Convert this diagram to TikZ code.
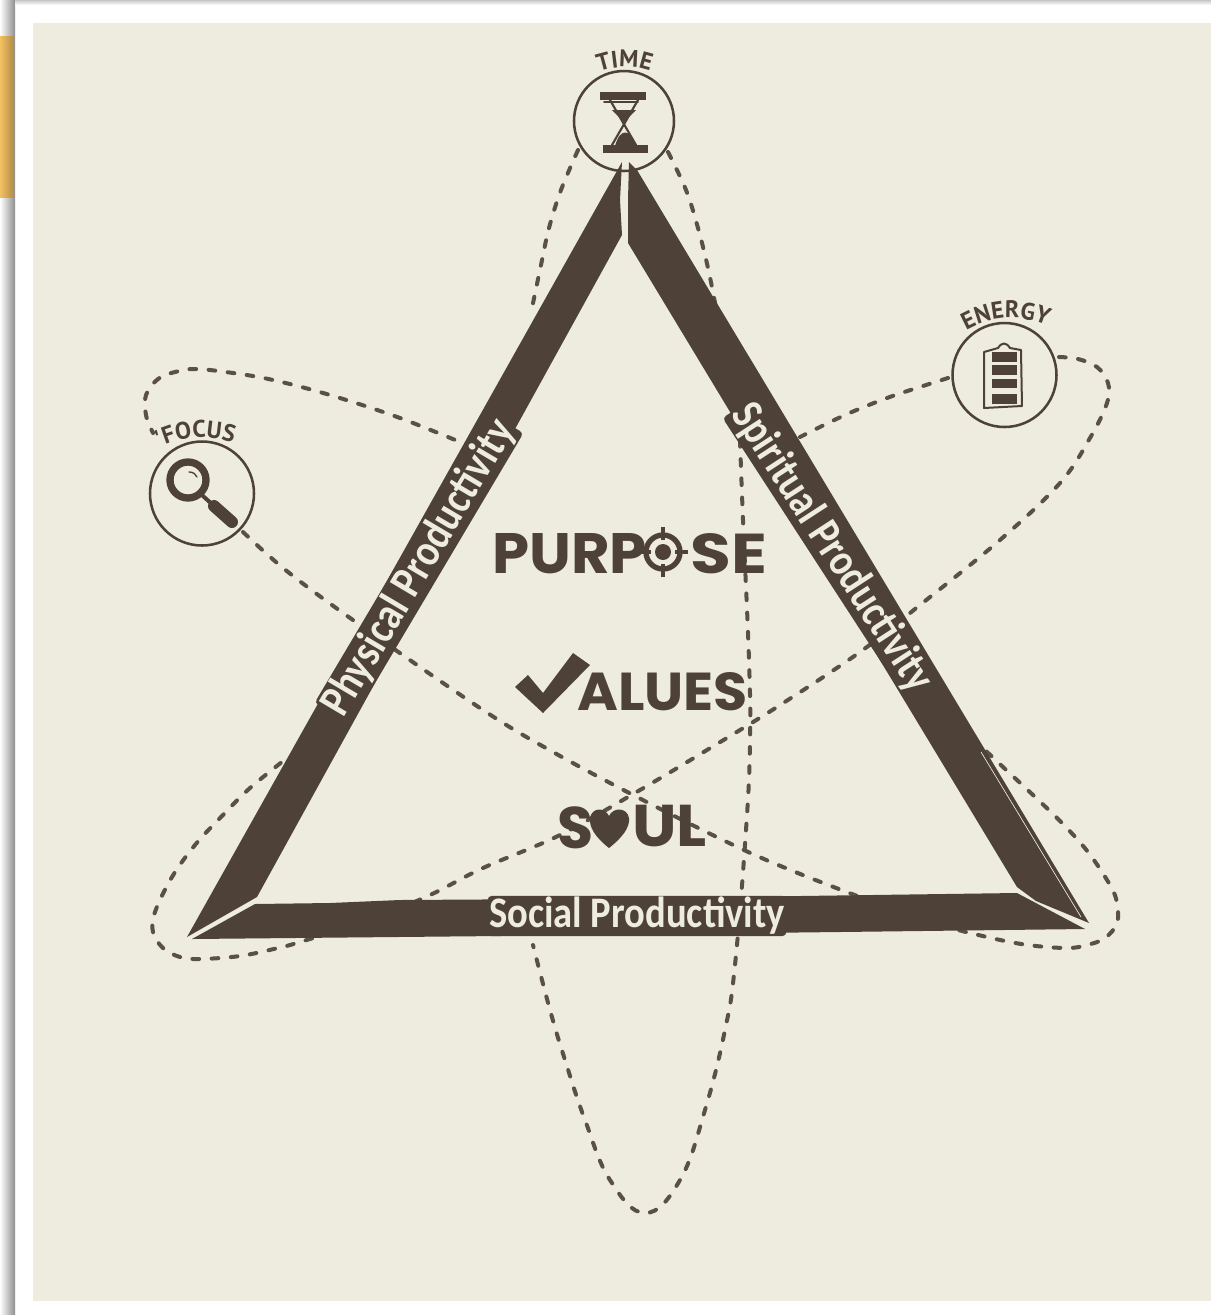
\documentclass[tikz,border=0pt]{standalone}
\usepackage{fontspec}
\usepackage{graphicx}
\usetikzlibrary{decorations.text}
\newfontfamily\bandfont{Carlito}[BoldFont={* Bold}]
\newfontfamily\bigfont{Poppins}[BoldFont={* Bold}]
\newfontfamily\arcfont{PT Sans}[BoldFont={* Bold}]
\definecolor{paper}{HTML}{EDECDF}
\definecolor{ink}{HTML}{4E4138}
\definecolor{dashink}{HTML}{5A5047}
\definecolor{tabcol}{HTML}{F3C160}
\definecolor{tabdark}{HTML}{B08C48}
\definecolor{shade}{HTML}{8E8E8E}
\newcommand{\arcstyle}{\arcfont\bfseries\fontsize{18}{18}\selectfont\color{ink}}
\tikzset{
  orbit/.style={draw=dashink,line width=3pt,dash pattern=on 5pt off 9.4pt,line cap=round},
  band/.style={fill=ink,draw=none},
  crack/.style={draw=paper,line width=0.5pt},
  badge/.style={circle,draw=ink,line width=1.9pt,fill=paper,minimum size=75pt,inner sep=0pt},
  bandtext/.style={text=paper,fill=ink,rounded corners=3pt,inner sep=1pt,font=\bandfont\bfseries},
  bigword/.style={text=ink,inner sep=0pt,anchor=base west,font=\bigfont\bfseries},
  arclabel/.style={decorate,decoration={text along path,text align=center}},
  icon/.style={draw=ink,line width=1.6pt,line cap=round,line join=round},
  iconfill/.style={fill=ink,draw=none}
}
\begin{document}
\begin{tikzpicture}[x=0.75pt,y=-0.75pt]
\useasboundingbox (0,0) rectangle (1211,1315);
% page
\fill[white] (0,0) rectangle (1211,1315);
\shade[left color=white,right color=shade] (0,0) rectangle (15,1315);
\shade[top color=shade!50,bottom color=white] (15,0) rectangle (1211,5);
\shade[left color=tabcol,middle color=tabcol,right color=tabdark] (0,36) rectangle (14,197);
\fill[paper] (33,23) rectangle (1211,1301);
% orbits
\draw[orbit] plot[smooth,tension=0.6] coordinates {(578,150) (561,190) (549,228) (541,265) (532,308)};
\draw[orbit] plot[smooth,tension=0.6] coordinates {(668,152) (686,190) (698,228) (708,268) (716,308)};
\draw[orbit] plot[smooth,tension=0.7] coordinates {(740,440) (743,520) (749,660) (750,743) (746,830) (735,965) (725,1030) (705,1110) (680,1180) (645,1213) (610,1180) (585,1120) (565,1060) (550,1010) (533,945)};
\draw[orbit] plot[smooth,tension=0.6] coordinates {(1059,357) (1078,359) (1097,367) (1108,383) (1107,403) (1090,438) (1060,483) (1000,540) (920,605) (860,652) (777,707) (707,750) (640,790) (560,835) (483,868) (430,895) (370,920) (300,942) (278,948) (240,956) (200,959) (180,957) (163,948) (153,932) (155,912) (172,877) (195,845) (222,816) (250,788) (287,758)};
\draw[orbit] plot[smooth,tension=0.6] coordinates {(948,378) (923,386) (887,398) (845,415) (800,437)};
\draw[orbit] plot[smooth,tension=0.6] coordinates {(472,447) (400,418) (330,395) (273,380) (233,373) (196,369) (175,372) (158,379) (146,395) (146,415) (153,433)};
\draw[orbit] plot[smooth,tension=0.6] coordinates {(243,532) (288,572) (360,625) (483,710) (553,752) (637,797) (727,842) (783,867) (860,897) (930,922) (987,937) (1028,945) (1067,948) (1087,945) (1105,938) (1117,923) (1117,903) (1110,885) (1088,852) (1062,823) (1033,795) (1003,767) (985,750)};
% badges
\node[badge] (timeb) at (624,121) {};
\node[badge,minimum size=78pt] (energyb) at (1004.5,375) {};
\node[badge,minimum size=78pt] (focusb) at (202,493.5) {};
% arms
\fill[band] (622,162) -- (620,200) -- (622,235) -- (257,897) -- (187,937) -- cycle;
\fill[band] (629,162) -- (637,170) -- (1089,923) -- (1036,901) -- (1017,887) -- (628,243) -- (628,200) -- cycle;
\fill[band] (192,939) -- (255,904) -- (330,903) -- (400,900) -- (560,899) -- (800,896) -- (1017,893) -- (1085,929) -- (840,932) -- (500,936) -- cycle;
\draw[crack] (981,752) -- (1081,917);
% hourglass
\fill[iconfill] (600,92) -- (646,92) -- (646,100) -- (600,100) -- cycle;
\fill[iconfill] (603,145) -- (648,145) -- (648,153) -- (603,153) -- cycle;
\draw[icon] (610,100) -- (636,145) (638,100) -- (612,145);
\draw[icon,line width=1.2pt] (604,102) -- (638,102);
\fill[iconfill] (612,110) -- (636,110) -- (624,122) -- cycle;
\fill[iconfill] (615,146) .. controls (620,128) and (630,128) .. (636,146) -- cycle;
% battery
\draw[icon,line width=1.5pt] (984,352) -- (984,408) -- (1022,406) -- (1021,350) -- (1010,348) .. controls (1006,342) and (1002,342) .. (998,348) -- cycle;
\fill[iconfill] (992,352) rectangle (1017,362);
\fill[iconfill] (992,365) rectangle (1017,375);
\fill[iconfill] (992,379) rectangle (1017,388);
\fill[iconfill] (992,394) rectangle (1017,404);
% magnifier
\draw[icon,line width=5.5pt] (188,480) circle (18);
\draw[icon,line width=3pt] (203,496) -- (214,506);
\draw[icon,line width=9pt] (214,506) -- (232,522);
\draw[icon,line width=1pt] (189,472) .. controls (193,472) and (196,474) .. (197,477);
% arc labels
\path[arclabel,decoration={text={|\arcstyle|TIME}}] (590,76) .. controls (610,64) and (640,64) .. (659,76);
\path[arclabel,decoration={text={|\arcstyle|ENERGY}}] (952,340) .. controls (985,314) and (1025,310) .. (1062,334);
\path[arclabel,decoration={text={|\arcstyle|'FOCUS}}] (148,455) .. controls (175,434) and (215,432) .. (246,448);
% band texts
\node[bandtext,rotate=59.3] (phys) at (419,568) {\resizebox{252pt}{24pt}{Physical Productivity}};
\node[bandtext,rotate=-57] (spir) at (832,548) {\resizebox{251pt}{24pt}{Spiritual Productivity}};
\node[bandtext] (soc) at (637,916) {\resizebox{222pt}{23pt}{Social Productivity}};
% PURPOSE
\node[bigword] (pu) at (492,573) {\fontsize{42}{42}\selectfont\resizebox{116pt}{30pt}{PURP}};
\coordinate (tg) at (663,552);
\draw[ink,line width=4pt] (tg) circle (17);
\fill[ink] (tg) circle (8);
\draw[ink,line width=3pt] (663,527) -- (663,540) (663,564) -- (663,577) (638,552) -- (651,552) (675,552) -- (688,552);
\node[bigword] (se) at (690,573) {\fontsize{42}{42}\selectfont\resizebox{57.5pt}{30pt}{SE}};
% VALUES
\fill[ink] (515,687) -- (528,675) -- (543,693) -- (573,653) -- (590,665) -- (543,713) -- cycle;
\node[bigword] (va) at (577,710) {\fontsize{40}{40}\selectfont\resizebox{128pt}{28.5pt}{ALUES}};
% SOUL
\node[bigword] (so) at (557,848) {\fontsize{44}{44}\selectfont S};
\fill[ink] (609,848) .. controls (595,837) and (589,827) .. (590,818) .. controls (592,807) and (605,807) .. (609,816) .. controls (613,807) and (627,807) .. (629,818) .. controls (630,827) and (623,837) .. (609,848) -- cycle;
\node[bigword] (ul) at (632,846) {\fontsize{44}{44}\selectfont\resizebox{56pt}{31pt}{UL}};
\end{tikzpicture}
\end{document}
